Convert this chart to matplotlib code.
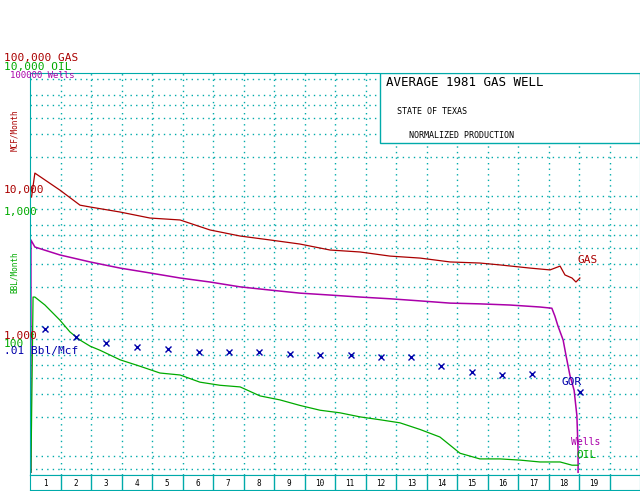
import matplotlib
matplotlib.use("Agg")
from matplotlib import pyplot as plt
from matplotlib.patches import Rectangle
import numpy as np

# data in years since start, values on the gas (Mcf/month) scale
gas_years = [0.05, 0.16, 0.98, 1.64, 1.97, 2.95, 3.93, 4.92, 5.9, 6.89, 7.87, 8.85, 9.84,
             10.82, 11.8, 12.79, 13.77, 14.75, 15.41, 16.39, 17.05, 17.38, 17.54, 17.77, 17.9, 18.03]
gas_values = [9820, 15000, 11100, 8500, 8230, 7530, 6770, 6540, 5480, 4920, 4590, 4270, 3840,
              3710, 3450, 3330, 3110, 3050, 2950, 2790, 2700, 2890, 2470, 2340, 2180, 2340]

wells_years = [0.03, 0.03, 0.16, 0.98, 1.97, 2.95, 3.93, 4.92, 5.9, 6.89, 7.87, 8.85, 9.84,
               10.82, 11.8, 12.79, 13.77, 14.75, 15.74, 16.72, 17.11, 17.21, 17.31, 17.48,
               17.57, 17.7, 17.84, 17.93, 17.97, 17.97]
wells_values = [75, 4590, 4050, 3520, 3110, 2790, 2560, 2340, 2180, 2000, 1890, 1790, 1730,
                1670, 1620, 1560, 1500, 1480, 1450, 1400, 1370, 1190, 1000, 780, 600, 420,
                320, 205, 110, 75]

oil_years = [0.03, 0.1, 0.16, 0.49, 0.98, 1.31, 1.64, 1.97, 2.3, 2.95, 3.61, 4.26, 4.92,
             5.57, 6.23, 6.89, 7.54, 8.2, 8.85, 9.51, 10.16, 10.82, 11.48, 12.13, 12.79,
             13.44, 14.1, 14.75, 15.41, 16.07, 16.72, 17.38, 17.77, 17.97]
oil_values = [75, 1670, 1670, 1450, 1110, 900, 780, 700, 650, 550, 490, 435, 420,
              370, 350, 340, 290, 270, 245, 225, 215, 200, 190, 180, 160, 140, 105, 95,
              95, 93, 90, 90, 85, 85]

gor_years = [0.49, 1.51, 2.49, 3.5, 4.52, 5.54, 6.52, 7.51, 8.52, 9.51, 10.52, 11.51,
             12.49, 13.48, 14.49, 15.48, 16.46, 18.03]
gor_values = [948, 822, 740, 690, 665, 630, 630, 630, 610, 600, 600, 580, 580, 490,
              445, 420, 430, 310]

years = list(range(1, 20))

teal = "#00aaaa"
red = "#aa0000"
green = "#00aa00"
purple = "#aa00aa"
blue = "#0000aa"
mono = "DejaVu Sans Mono"

fig = plt.figure(figsize=(6.4, 4.91), dpi=100)
ax = fig.add_axes([30/640, 16/491, 610/640, 402/491])
ax.set_yscale("log")
ax.set_xlim(0, 20)
ax.set_ylim(10**1.854, 10**4.946)
ax.set_xticks(range(1, 20))
ax.yaxis.set_major_locator(matplotlib.ticker.LogLocator(base=10, subs=(1, 2, 3, 4, 5, 6, 8)))
ax.yaxis.set_minor_locator(matplotlib.ticker.NullLocator())
ax.grid(True, which="major", color=teal, linestyle=(0, (1, 3)), linewidth=1)
ax.tick_params(length=0, labelleft=False, labelbottom=False)
for s in ax.spines.values():
    s.set_color(teal)

ax.plot(gas_years, gas_values, color=red, lw=0.9)
ax.plot(wells_years, wells_values, color=purple, lw=1.1)
ax.plot(oil_years, oil_values, color=green, lw=0.9)
ax.plot(gor_years, gor_values, "x", color=blue, ms=4, mew=1)

# title box
ax.add_patch(Rectangle((350/610, (475-143)/402), 260/610, 70/402, transform=ax.transAxes,
                       facecolor="white", edgecolor=teal, lw=1, zorder=5))
ax.text(356/610, (475-82)/402, "AVERAGE 1981 GAS WELL", transform=ax.transAxes,
        family=mono, fontsize=9, va="center", zorder=6)
ax.text(367/610, (475-112)/402, "STATE OF TEXAS", transform=ax.transAxes,
        family=mono, fontsize=6, va="center", zorder=6)
ax.text(379/610, (475-135)/402, "NORMALIZED PRODUCTION", transform=ax.transAxes,
        family=mono, fontsize=6, va="center", zorder=6)

# series labels
def lab(x, y, s, c, fs=8, **kw):
    fig.text(x/640, 1 - y/491, s, color=c, family=mono, fontsize=fs, va="center", **kw)

lab(4, 58, "100,000 GAS", red)
lab(4, 67, "10,000 OIL", green)
lab(10, 76, "100000 Wells", purple, fs=6.5)
lab(10, 130, "MCF/Month", red, fs=5.5, rotation=90)
lab(4, 190, "10,000", red)
lab(4, 212, "1,000", green)
lab(10, 272, "BBL/Month", green, fs=5.5, rotation=90)
lab(4, 336, "1,000", red)
lab(4, 344, "100", green)
lab(4, 351, ".01 Bbl/Mcf", blue)
lab(577, 260, "GAS", red)
lab(562, 382, "GOR", blue)
lab(571, 442, "Wells", purple, fs=7)
lab(576, 455, "OIL", green)

# year strip
bx = fig.add_axes([30/640, 1/491, 610/640, 15/491])
bx.set_xlim(0, 20)
bx.set_ylim(0, 1)
for i in range(1, 20):
    bx.axvline(i, color=teal, lw=1)
for y in years:
    bx.text(y - 0.5, 0.45, str(y), ha="center", va="center", family=mono, fontsize=5.5)
bx.set_xticks([])
bx.set_yticks([])
for s in bx.spines.values():
    s.set_color(teal)

fig.savefig("out.png", dpi=100)
